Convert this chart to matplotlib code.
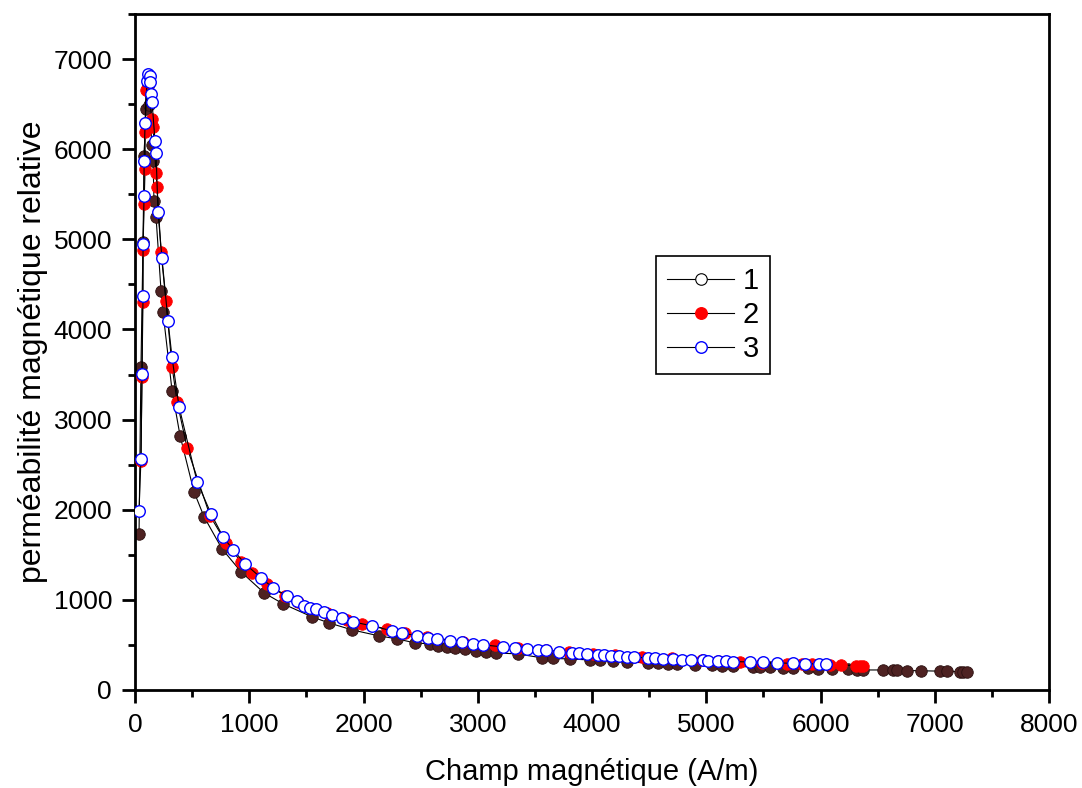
import matplotlib
matplotlib.use("Agg")
import matplotlib.pyplot as plt
from matplotlib.lines import Line2D
from matplotlib.ticker import MultipleLocator

plt.rcParams['font.family'] = ['Liberation Sans', 'DejaVu Sans']

# Series 1 (dark brown filled)
x1 = [35, 52, 70, 79, 96, 110, 123, 149, 158, 166, 184, 228, 245, 324, 394, 516, 604, 761, 928, 1129,
      1295, 1549, 1698, 1899, 2136, 2293, 2451, 2582, 2652, 2731, 2801, 2888, 2984, 3072, 3160, 3352,
      3562, 3659, 3807, 3982, 4070, 4184, 4306, 4490, 4577, 4665, 4744, 4902, 5050, 5138, 5234, 5409,
      5470, 5558, 5672, 5760, 5891, 5978, 6101, 6241, 6319, 6372, 6547, 6635, 6670, 6757, 6880, 7046,
      7107, 7221, 7247, 7282]
y1 = [1733, 3589, 4967, 5922, 6450, 6700, 6489, 6044, 5867, 5422, 5244, 4422, 4189, 3322, 2822, 2200,
      1922, 1567, 1311, 1078, 956, 811, 744, 667, 600, 567, 522, 511, 489, 478, 467, 456, 433, 422, 411,
      400, 356, 350, 344, 333, 328, 322, 311, 300, 295, 291, 289, 278, 272, 267, 262, 256, 253, 250, 247,
      244, 240, 238, 235, 230, 226, 222, 222, 220, 218, 216, 213, 209, 207, 204, 203, 202]

# Series 2 (red filled)
x2 = [52, 61, 66, 70, 79, 88, 88, 96, 114, 149, 158, 184, 193, 228, 271, 324, 368, 455, 656, 797, 928,
      1024, 1155, 1313, 1427, 1680, 1855, 1987, 2206, 2363, 2556, 2871, 3151, 3352, 3600, 3800, 4009,
      4200, 4438, 4700, 4963, 5100, 5295, 5488, 5707, 5838, 5926, 6083, 6179, 6311, 6350, 6372]
y2 = [2544, 3478, 4300, 4878, 5389, 5778, 6189, 6656, 6644, 6333, 6244, 5733, 5578, 4856, 4311, 3589,
      3200, 2689, 1933, 1633, 1422, 1300, 1178, 1044, 978, 856, 778, 733, 678, 633, 589, 533, 500, 467,
      440, 420, 400, 385, 367, 350, 333, 322, 311, 300, 292, 288, 285, 280, 276, 270, 268, 266]

# Series 3 (blue open)
x3 = [35, 52, 61, 70, 70, 79, 79, 88, 105, 114, 131, 131, 140, 149, 175, 184, 201, 236, 289, 324, 385,
      543, 665, 770, 858, 963, 1103, 1208, 1330, 1418, 1479, 1532, 1584, 1654, 1724, 1812, 1908, 2074,
      2249, 2337, 2468, 2565, 2643, 2757, 2862, 2958, 3046, 3221, 3326, 3431, 3527, 3597, 3711, 3825,
      3886, 3956, 4053, 4105, 4166, 4236, 4306, 4368, 4490, 4551, 4621, 4709, 4788, 4866, 4972, 5015,
      5103, 5173, 5234, 5383, 5497, 5619, 5759, 5864, 5987, 6048]
y3 = [1989, 2567, 3511, 4367, 4944, 5478, 5867, 6289, 6756, 6833, 6811, 6744, 6611, 6522, 6089, 5956,
      5300, 4789, 4089, 3689, 3144, 2311, 1956, 1700, 1556, 1400, 1244, 1133, 1044, 989, 933, 911, 900,
      867, 833, 800, 756, 711, 656, 633, 600, 578, 567, 544, 533, 511, 500, 478, 467, 456, 444, 440, 422,
      411, 405, 400, 389, 385, 378, 372, 367, 362, 356, 352, 348, 344, 338, 333, 328, 326, 322, 318, 315,
      311, 305, 300, 296, 292, 288, 285]

labels = ["1", "2", "3"]

fig = plt.figure(figsize=(10.82, 7.88), dpi=100)
ax = fig.add_axes([0.1248, 0.1244, 0.8447, 0.8578])

ms = 8.3
ax.plot(x1, y1, '-', color='black', lw=0.8, marker='o', ms=ms, mfc='#4e2222', mec='#2a1010', mew=0.6, zorder=2)
ax.plot(x2, y2, '-', color='black', lw=0.8, marker='o', ms=ms, mfc='#ff0000', mec='#ff0000', mew=0.6, zorder=3)
ax.plot(x3, y3, '-', color='black', lw=0.8, marker='o', ms=ms, mfc='white', mec='#0000ff', mew=1.0, zorder=4)

ax.set_xlim(0, 8000)
ax.set_ylim(0, 7500)
ax.xaxis.set_major_locator(MultipleLocator(1000))
ax.xaxis.set_minor_locator(MultipleLocator(500))
ax.yaxis.set_major_locator(MultipleLocator(1000))
ax.yaxis.set_minor_locator(MultipleLocator(500))
ax.set_yticks([0, 1000, 2000, 3000, 4000, 5000, 6000, 7000])

for s in ax.spines.values():
    s.set_linewidth(2)
ax.tick_params(axis='both', which='major', direction='out', length=9.5, width=2, labelsize=19, pad=7)
ax.tick_params(axis='both', which='minor', direction='out', length=5, width=2)
ax.tick_params(top=False, right=False, which='both')

ax.set_xlabel("Champ magnétique (A/m)", fontsize=21, labelpad=15)
ax.set_ylabel("perméabilité magnétique relative", fontsize=23, labelpad=4)

handles = [
    Line2D([], [], color='black', lw=0.8, marker='o', ms=ms, mfc='white', mec='black', mew=0.8),
    Line2D([], [], color='black', lw=0.8, marker='o', ms=ms, mfc='#ff0000', mec='#ff0000'),
    Line2D([], [], color='black', lw=0.8, marker='o', ms=ms, mfc='white', mec='#0000ff', mew=1.0),
]
leg = ax.legend(handles, labels, loc='upper left', bbox_to_anchor=(0.570, 0.642), fontsize=21,
                frameon=True, fancybox=False, edgecolor='black', framealpha=1, borderpad=0.38,
                handlelength=2.3, handletextpad=0.3, labelspacing=0.2, borderaxespad=0)
leg.get_frame().set_linewidth(1.2)

fig.savefig("out.png", dpi=100)
